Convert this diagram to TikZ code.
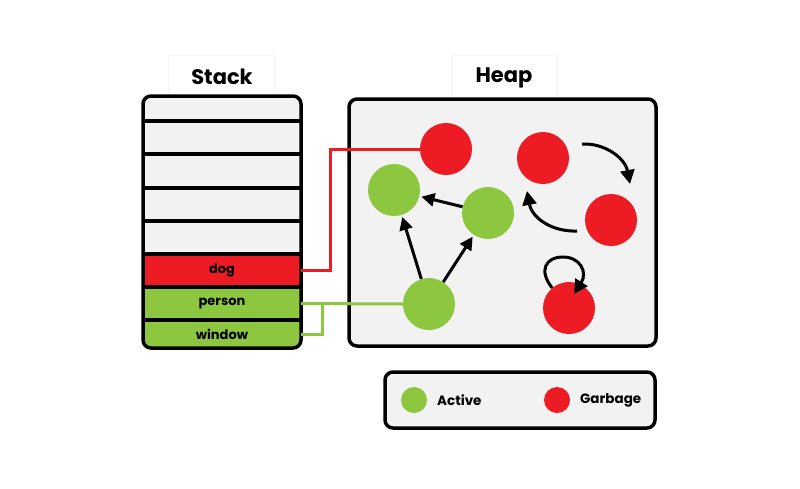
\documentclass[tikz,border=0pt]{standalone}
\usepackage{fontspec}
\setmainfont{Poppins}
\usetikzlibrary{arrows.meta}
\definecolor{gred}{HTML}{ED1C24}
\definecolor{ggreen}{HTML}{8DC63F}
\definecolor{gbg}{HTML}{F2F2F2}
\begin{document}
\begin{tikzpicture}[x=1pt,y=-1pt,
  cell/.style={draw=none, minimum width=158pt, inner sep=0pt, font=\bfseries\fontsize{13}{15}\selectfont},
  obj/.style={circle, minimum size=52pt, inner sep=0pt, draw=none},
  dot/.style={circle, minimum size=26pt, inner sep=0pt, draw=none},
  frame/.style={draw=black, line width=3.5pt, rounded corners=8pt},
  sep/.style={draw=black, line width=4pt},
  ptr/.style={line width=3pt, -{Triangle[length=13pt,width=13pt]}},
  bigptr/.style={line width=3pt, -{Triangle[length=14pt,width=14pt]}},
  title/.style={font=\bfseries\fontsize{21}{25}\selectfont},
  lab/.style={font=\bfseries\fontsize{13.5}{16}\selectfont, anchor=west, inner sep=0pt},
  ghost/.style={draw=black!4, line width=0.6pt},
  redwire/.style={draw=gred, line width=3pt},
  greenwire/.style={draw=ggreen, line width=3pt}
]
\useasboundingbox (0,0) rectangle (800,488);

% faint title boxes
\draw[ghost] (168,96) -- (168,55) -- (274,55) -- (274,96);
\draw[ghost] (452,96) -- (452,55) -- (557,55) -- (557,96);
\node[title] (stacktitle) at (222,77) {Stack};
\node[title] (heaptitle) at (504,78) {Heap};

% stack
\begin{scope}
  \clip[rounded corners=8pt] (143,96) rectangle (301,348);
  \node[cell, fill=gbg, minimum height=25pt] (s1) at (222,108.5) {};
  \node[cell, fill=gbg, minimum height=33pt] (s2) at (222,137.5) {};
  \node[cell, fill=gbg, minimum height=34pt] (s3) at (222,171) {};
  \node[cell, fill=gbg, minimum height=33pt] (s4) at (222,204.5) {};
  \node[cell, fill=gbg, minimum height=33pt] (s5) at (222,237.5) {};
  \node[cell, fill=gred, minimum height=33pt] (dog) at (222,270.5) {dog};
  \node[cell, fill=ggreen, minimum height=33pt] (person) at (222,303.5) {person};
  \node[cell, fill=ggreen, minimum height=28pt] (window) at (222,334) {window};
\end{scope}
\foreach \yy in {121,154,188,221,254,287,320}
  \draw[sep] (143,\yy) -- (301,\yy);
\draw[frame] (143,96) rectangle (301,348);

% heap
\node[frame, fill=gbg, minimum width=307pt, minimum height=247pt] (heap) at (502.5,222.5) {};

\node[obj, fill=gred] (hd) at (446,149) {};
\node[obj, fill=gred] (hr1) at (543,158) {};
\node[obj, fill=gred] (hr2) at (611,220) {};
\node[obj, fill=gred] (hb) at (569,308) {};
\node[obj, fill=ggreen] (gl) at (394,190) {};
\node[obj, fill=ggreen] (gm) at (488,213) {};
\node[obj, fill=ggreen] (ga) at (429,304) {};

% references from stack
\draw[redwire] (dog.east) -- ++(29,0) |- (hd.west);
\draw[greenwire] (person.east) -- (ga.west);
\draw[greenwire] (window.east) -- ++(21,0) |- (person.east);

% pointers between heap objects
\draw[ptr, shorten >=2pt] (ga) -- (gl);
\draw[ptr, shorten >=2pt] (ga) -- (gm);
\draw[ptr, shorten >=2pt] (gm) -- (gl);

% garbage cycle
\coordinate (c1s) at (582,144);
\coordinate (c1e) at (630,184);
\coordinate (c2s) at (577,231);
\coordinate (c2e) at (527,191);
\coordinate (c3e) at (574,294);
\draw[bigptr] (c1s) .. controls (605,143) and (625,158) .. (c1e);
\draw[bigptr] (c2s) .. controls (552,232) and (532,218) .. (c2e);
\draw[bigptr] (hb.130) .. controls (538,270) and (546,257) .. (563,257)
  .. controls (580,257) and (588,272) .. (c3e);

% legend
\node[frame, fill=gbg, minimum width=270pt, minimum height=56pt] (legend) at (520,400) {};
\node[dot, fill=ggreen] (ldot1) at (414,400) {};
\node[lab] (lact) at (437,400) {Active};
\node[dot, fill=gred] (ldot2) at (557,400) {};
\node[lab] (lgar) at (580,400) {Garbage};
\end{tikzpicture}
\end{document}
